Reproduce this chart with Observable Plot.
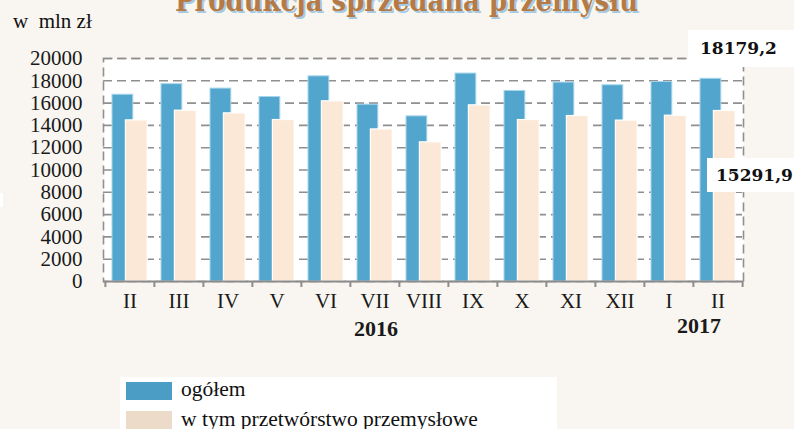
<!DOCTYPE html>
<html><head><meta charset="utf-8">
<script src="https://cdn.jsdelivr.net/npm/d3@7"></script>
<script src="https://cdn.jsdelivr.net/npm/@observablehq/plot@0.6"></script>
<style>
html,body{margin:0;padding:0;background:#f9f6f1;}
#wrap{position:relative;width:794px;height:429px;overflow:hidden;background:#f9f6f1;font-family:"Liberation Serif",serif;color:#111;}
#wrap svg{position:absolute;left:0;top:0;}
.abs{position:absolute;white-space:pre;}
#title{left:175px;top:-16px;font:bold 29px "DejaVu Serif",serif;color:#b67a44;text-shadow:2px 2px 0 #a6c9e2;transform-origin:0 0;}
#unit{left:13px;top:9px;font-size:21px;}
.box{position:absolute;background:#fff;font:bold 17px "DejaVu Serif",serif;color:#111;}
#legend{left:120px;top:377px;width:437px;height:60px;background:#fff;}
.sw{position:absolute;left:6px;width:46px;}
.lt{position:absolute;left:61px;font-size:21.5px;font-family:"Liberation Serif",serif;white-space:nowrap;}
</style></head><body><div id="wrap"></div>
<script>
// ---- data ----
const months = ["II","III","IV","V","VI","VII","VIII","IX","X","XI","XII","I","II"];
const years  = ["2016","2016","2016","2016","2016","2016","2016","2016","2016","2016","2016","2017","2017"];
const total         = [16750,17700,17300,16550,18400,15860,14810,18650,17090,17840,17600,17900,18179.2];
const manufacturing = [14450,15320,15080,14480,16160,13640,12480,15800,14480,14840,14430,14870,15291.9];
const yTicks = [0,2000,4000,6000,8000,10000,12000,14000,16000,18000,20000];
const seriesNames = ["ogółem","w tym przetwórstwo przemysłowe"];
const seriesColors = ["#4c9dc6","#ecdbc9"];
const titleText = "Produkcja sprzedana przemysłu";
const unitText = "w  mln zł";

const keys = months.map((m,i)=>m+"-"+years[i]);
const data = keys.map((k,i)=>({k, month:months[i], total:total[i], manuf:manufacturing[i]}));
const fmt = v => String(v).replace(".", ",");
const last = keys.length-1;

const chart = Plot.plot({
  width:794, height:429,
  marginLeft:103, marginRight:51, marginTop:58, marginBottom:148,
  style:{background:"transparent", fontFamily:"Liberation Serif, serif", fontSize:"21px", color:"#1a1a1a", overflow:"visible"},
  x:{domain:keys, padding:0, label:null},
  y:{domain:[0,20000], label:null},
  marks:[
    Plot.frame({fill:"#fff", stroke:null}),
    Plot.gridY(yTicks.filter(v=>v>0), {stroke:"#8f8f8f", strokeOpacity:1, strokeWidth:1.6, strokeDasharray:"9,5"}),
    Plot.frame({stroke:"#8f8f8f", strokeWidth:1.6, strokeDasharray:"9,5"}),
    Plot.barY(data, {x:"k", y:"total", fill:"#52a6cd", stroke:"#a9d5ec", strokeWidth:1, insetLeft:7, insetRight:21.2}),
    Plot.barY(data, {x:"k", y:"manuf", fill:"#fbe8d6", stroke:"#ffffff", strokeWidth:1.2, insetLeft:20.4, insetRight:6.8}),
    Plot.ruleY([0], {stroke:"#8c8c8c", strokeWidth:2}),
    Plot.ruleX(keys, {x:d=>d, dx:-640/13/2, stroke:"#8c8c8c", strokeWidth:2, insetTop:223, insetBottom:-6}),
    Plot.ruleX([keys[last]], {x:d=>d, dx:640/13/2, stroke:"#8c8c8c", strokeWidth:2, insetTop:223, insetBottom:-6}),
    Plot.axisY({ticks:yTicks, tickSize:0, tickPadding:21, tickFormat:d=>String(d), fontSize:21}),
    Plot.axisX({tickSize:0, tickPadding:12, tickFormat:k=>k.split("-")[0], fontSize:21, label:null}),
    Plot.text([keys[5]], {x:d=>d, text:()=>years[5], frameAnchor:"bottom", lineAnchor:"bottom", dy:54, dx:1, fontWeight:"bold", fontSize:22}),
    Plot.text([keys[last]], {x:d=>d, text:()=>years[last], frameAnchor:"bottom", lineAnchor:"bottom", dy:51, dx:-19, fontWeight:"bold", fontSize:22})
  ]
});
const wrap = document.getElementById("wrap");
wrap.appendChild(chart);

// title (clipped at the top, as in the source)
const t = document.createElement("div"); t.id="title"; t.className="abs"; t.textContent = titleText;
wrap.appendChild(t);
const tw = t.getBoundingClientRect().width; t.style.transform = `scaleX(${463/tw})`;

const u = document.createElement("div"); u.id="unit"; u.className="abs"; u.textContent = unitText; wrap.appendChild(u);

// value boxes
const b1 = document.createElement("div"); b1.className="box";
Object.assign(b1.style,{left:"688px",top:"30px",width:"106px",height:"37px",lineHeight:"37px",paddingLeft:"12px",boxSizing:"border-box"});
b1.textContent = fmt(total[last]); wrap.appendChild(b1);
const b2 = document.createElement("div"); b2.className="box";
Object.assign(b2.style,{left:"707px",top:"158px",width:"90px",height:"34px",lineHeight:"34px",paddingLeft:"9px",boxSizing:"border-box"});
b2.textContent = fmt(manufacturing[last]); wrap.appendChild(b2);
const sm = document.createElement("div"); Object.assign(sm.style,{position:"absolute",left:"0px",top:"193px",width:"3px",height:"14px",background:"#fff"}); wrap.appendChild(sm);

// legend
const lg = document.createElement("div"); lg.id="legend"; lg.className="abs";
seriesNames.forEach((n,i)=>{
  const s=document.createElement("div"); s.className="sw";
  Object.assign(s.style,{top:(i?34:5)+"px",height:"18px",background:seriesColors[i]});
  const l=document.createElement("div"); l.className="lt"; l.textContent=n;
  Object.assign(l.style,{top:(i?30:0)+"px"});
  lg.appendChild(s); lg.appendChild(l);
});
wrap.appendChild(lg);
</script></body></html>
